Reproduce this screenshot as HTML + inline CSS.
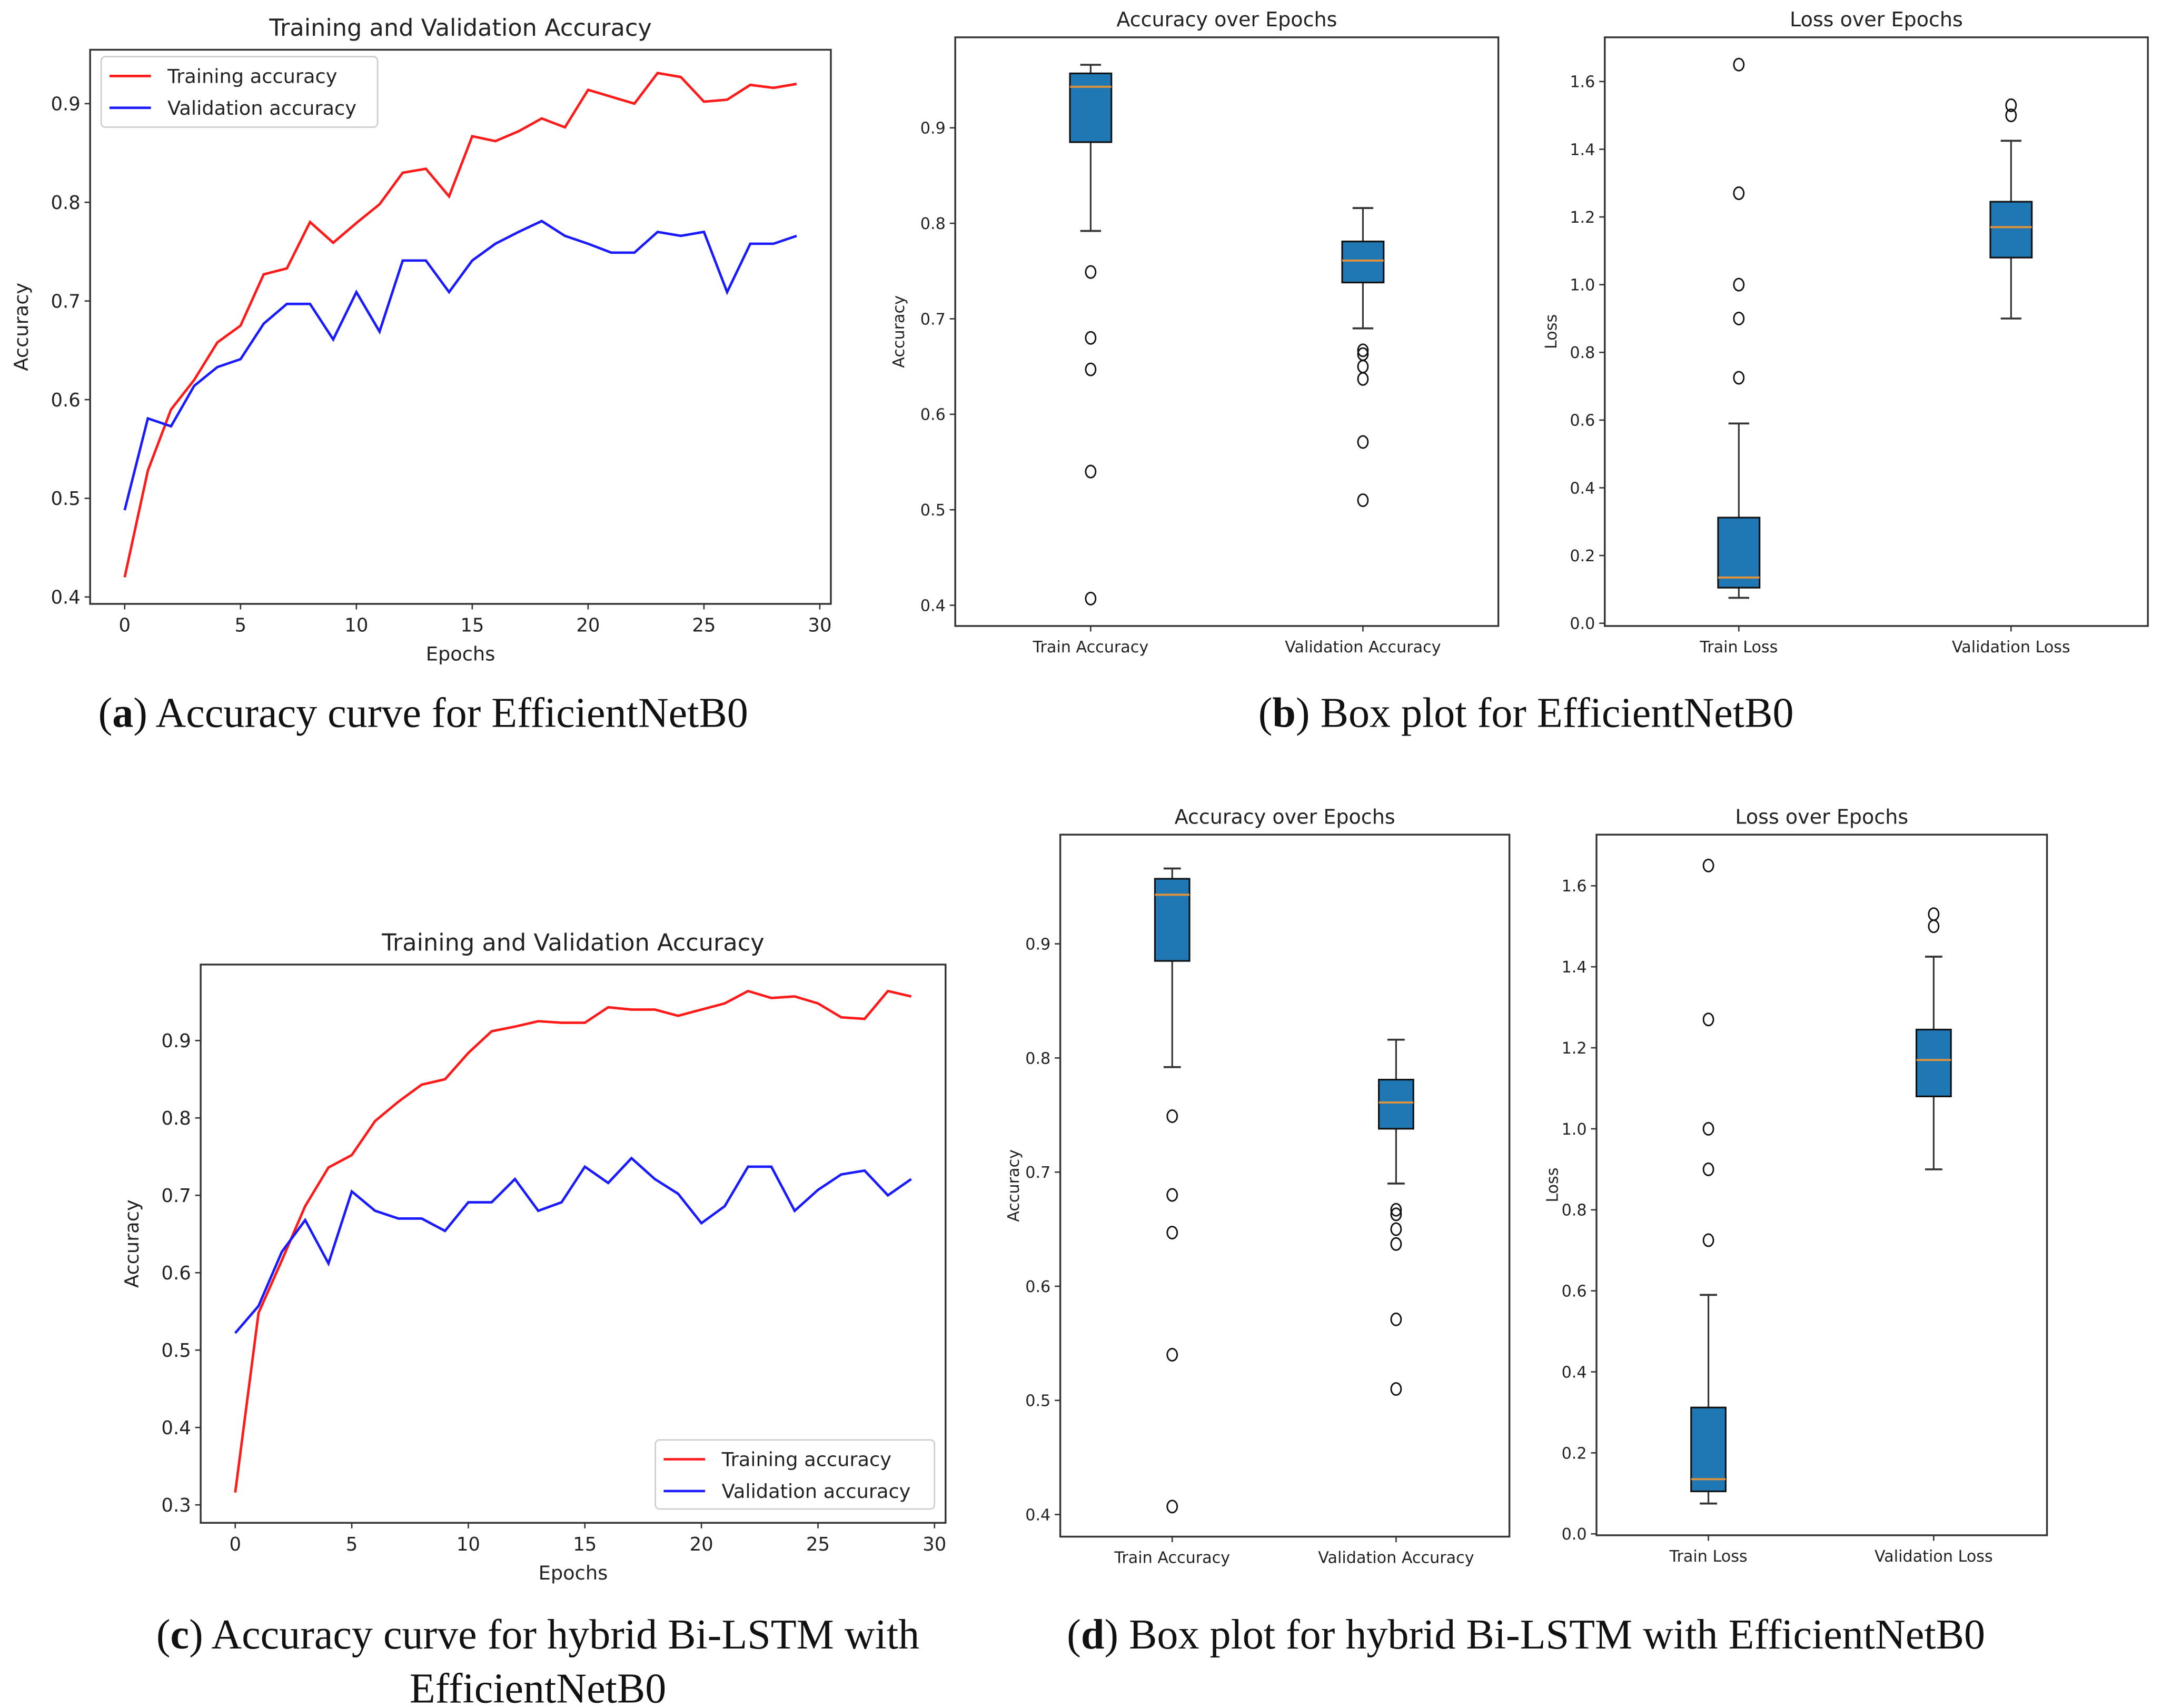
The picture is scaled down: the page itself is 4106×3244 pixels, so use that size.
<!DOCTYPE html>
<html><head><meta charset="utf-8"><style>
html,body{margin:0;padding:0;background:#fff}
svg{display:block}
</style></head><body>
<svg id="root" width="4106" height="3244" viewBox="0 0 1564 1236" xmlns="http://www.w3.org/2000/svg" font-family="'DejaVu Sans','Liberation Sans',sans-serif">
<rect width="1564" height="1236" fill="#fff"/>
<g id="g"></g>
<g font-family="'Liberation Serif',serif" font-size="30.5" fill="#111" text-anchor="middle">
<text x="306" y="526">(<tspan font-weight="bold">a</tspan>) Accuracy curve for EfficientNetB0</text>
<text x="1104" y="526">(<tspan font-weight="bold">b</tspan>) Box plot for EfficientNetB0</text>
<text x="389" y="1193">(<tspan font-weight="bold">c</tspan>) Accuracy curve for hybrid Bi-LSTM with</text>
<text x="389" y="1232">EfficientNetB0</text>
<text x="1104" y="1193">(<tspan font-weight="bold">d</tspan>) Box plot for hybrid Bi-LSTM with EfficientNetB0</text>
</g>
</svg>
<script>
const epochs = Array.from({length:30},(_, i)=>i);
const trainA = [0.42,0.528,0.59,0.62,0.658,0.675,0.727,0.733,0.78,0.759,0.779,0.798,0.83,0.834,0.806,0.867,0.862,0.872,0.885,0.876,0.914,0.907,0.90,0.931,0.927,0.902,0.904,0.919,0.916,0.92];
const valA = [0.488,0.581,0.573,0.614,0.633,0.641,0.677,0.697,0.697,0.661,0.709,0.669,0.741,0.741,0.709,0.741,0.758,0.77,0.781,0.766,0.758,0.749,0.749,0.77,0.766,0.77,0.709,0.758,0.758,0.766];
const trainC = [0.316,0.548,0.616,0.686,0.736,0.752,0.796,0.821,0.843,0.85,0.884,0.912,0.918,0.925,0.923,0.923,0.943,0.94,0.94,0.932,0.94,0.948,0.964,0.955,0.957,0.948,0.93,0.928,0.964,0.957];
const valC = [0.522,0.557,0.627,0.668,0.612,0.705,0.68,0.67,0.67,0.654,0.691,0.691,0.721,0.68,0.691,0.737,0.716,0.748,0.721,0.702,0.664,0.686,0.737,0.737,0.68,0.707,0.727,0.732,0.70,0.721];
const xTicks = [0,5,10,15,20,25,30];
const accTicksA = [0.4,0.5,0.6,0.7,0.8,0.9];
const accTicksC = [0.3,0.4,0.5,0.6,0.7,0.8,0.9];
const lossTicks = [0.0,0.2,0.4,0.6,0.8,1.0,1.2,1.4,1.6];
const accCats = ["Train Accuracy","Validation Accuracy"];
const lossCats = ["Train Loss","Validation Loss"];
// box stats: [whislo,q1,med,q3,whishi]
const boxTrainAcc = [0.792,0.885,0.943,0.957,0.966];
const boxValAcc = [0.69,0.738,0.761,0.781,0.816];
const boxTrainLoss = [0.075,0.105,0.135,0.312,0.59];
const boxValLoss = [0.9,1.08,1.17,1.245,1.425];
const outTrainAcc = [0.749,0.68,0.647,0.54,0.407];
const outValAcc = [0.667,0.663,0.65,0.637,0.571,0.51];
const outTrainLoss = [1.65,1.27,1.0,0.9,0.725];
const outValLoss = [1.53,1.50];

const NS="http://www.w3.org/2000/svg";
const G=document.getElementById('g');
function el(tag,attrs,parent,text){const e=document.createElementNS(NS,tag);for(const k in attrs)e.setAttribute(k,attrs[k]);if(text!==undefined)e.textContent=text;(parent||G).appendChild(e);return e;}
function lin(d0,d1,r0,r1){return v=>r0+(v-d0)*(r1-r0)/(d1-d0);}
function fmt(v){return v.toFixed(1);}

function axesFrame(p,name){
  const r=el('rect',{x:p.x0,y:p.y0,width:p.x1-p.x0,height:p.y1-p.y0,fill:'none',stroke:'#333','stroke-width':1.3});
  
  
}
function yAxis(p,ticks,sy,fs,name){
  ticks.forEach(t=>{
    const y=sy(t);
    const l=el('line',{x1:p.x0-4,x2:p.x0,y1:y,y2:y,stroke:'#333','stroke-width':1});
    
    
    const tx=el('text',{x:p.x0-7,y:y+fs*0.36,'font-size':fs,'text-anchor':'end',fill:'#222'},null,fmt(t));
    
    
  });
}
function title(x,y,s,fs,name){
  const t=el('text',{x:x,y:y,'font-size':fs,'text-anchor':'middle',fill:'#222'},null,s);
  
  
}
function ylabel(x,y,s,fs,name){
  const t=el('text',{x:0,y:0,'font-size':fs,'text-anchor':'middle',fill:'#222',transform:`translate(${x},${y}) rotate(-90)`},null,s);
  
  
}

function linePanel(p,tr,va,yt,name,legend){
  const sx=lin(0,30,p.ex0,p.ex1), sy=lin(p.v0,p.v1,p.py0,p.py1);
  axesFrame(p,name);
  title((p.x0+p.x1)/2,p.y0-10,'Training and Validation Accuracy',17,name+'-title');
  yAxis(p,yt,sy,13.5,name);
  xTicks.forEach(t=>{
    const x=sx(t);
    const l=el('line',{x1:x,x2:x,y1:p.y1,y2:p.y1+4,stroke:'#333','stroke-width':1});
    
    
    const tx=el('text',{x:x,y:p.y1+20,'font-size':13.5,'text-anchor':'middle',fill:'#222'},null,String(t));
    
    
  });
  title((p.x0+p.x1)/2,p.y1+41,'Epochs',14,name+'-x-axis-title');
  ylabel(p.x0-45,(p.y0+p.y1)/2,'Accuracy',14,name+'-y-axis-title');
  const pr=el('polyline',{points:epochs.map(i=>sx(i)+','+sy(tr[i])).join(' '),fill:'none',stroke:'#ff1a1a','stroke-width':1.8});
  
  
  const pb=el('polyline',{points:epochs.map(i=>sx(i)+','+sy(va[i])).join(' '),fill:'none',stroke:'#1a1aff','stroke-width':1.8});
  
  
  const L=legend;
  const lb=el('rect',{x:L.x,y:L.y,width:L.w,height:L.h,rx:3,fill:'#fff',stroke:'#ccc','stroke-width':1});
  
  
  [['Training accuracy','#ff1a1a'],['Validation accuracy','#1a1aff']].forEach((e,i)=>{
    const yy=L.y+14+i*23;
    const l=el('line',{x1:L.x+6,x2:L.x+36,y1:yy,y2:yy,stroke:e[1],'stroke-width':1.8});
    
    
    const t=el('text',{x:L.x+48,y:yy+5,'font-size':14,fill:'#222'},null,e[0]);
    
    
  });
}

function boxPanel(p,cats,stats,outs,yt,ttl,yl,name,bw,fs){
  const sy=lin(p.v0,p.v1,p.py0,p.py1);
  axesFrame(p,name);
  title((p.x0+p.x1)/2,p.y0-8,ttl,fs+3,name+'-title');
  yAxis(p,yt,sy,fs,name);
  ylabel(p.ylx,(p.y0+p.y1)/2,yl,fs,name+'-y-axis-title');
  cats.forEach((c,i)=>{
    const cx=p.cx[i], s=stats[i];
    const l=el('line',{x1:cx,x2:cx,y1:p.y1,y2:p.y1+4,stroke:'#333','stroke-width':1});
    
    
    const t=el('text',{x:cx,y:p.y1+19,'font-size':fs,'text-anchor':'middle',fill:'#222'},null,c);
    
    
    const w1=el('line',{x1:cx,x2:cx,y1:sy(s[0]),y2:sy(s[1]),stroke:'#333','stroke-width':1.2});
    
    
    const w2=el('line',{x1:cx,x2:cx,y1:sy(s[3]),y2:sy(s[4]),stroke:'#333','stroke-width':1.2});
    
    
    [s[0],s[4]].forEach(v=>{
      const c2=el('line',{x1:cx-bw/4,x2:cx+bw/4,y1:sy(v),y2:sy(v),stroke:'#333','stroke-width':1.4});
      
      
    });
    const b=el('rect',{x:cx-bw/2,y:sy(s[3]),width:bw,height:sy(s[1])-sy(s[3]),fill:'#1f77b4',stroke:'#111','stroke-width':1.2});
    
    
    const m=el('line',{x1:cx-bw/2,x2:cx+bw/2,y1:sy(s[2]),y2:sy(s[2]),stroke:'#e0923a','stroke-width':1.5});
    
    
    outs[i].forEach(v=>{
      const o=el('ellipse',{cx:cx,cy:sy(v),rx:3.6,ry:4.4,fill:'none',stroke:'#111','stroke-width':1.1});
      
      
    });
  });
}

linePanel({x0:65,x1:601,y0:36,y1:437,ex0:90,ex1:593,v0:0.4,v1:0.9,py0:432,py1:75},trainA,valA,accTicksA,'panel-a',{x:73,y:41,w:200,h:51});
linePanel({x0:145,x1:684,y0:698,y1:1102,ex0:170,ex1:676,v0:0.3,v1:0.9,py0:1089,py1:753},trainC,valC,accTicksC,'panel-c',{x:474,y:1042,w:202,h:50});

boxPanel({x0:691,x1:1084,y0:27,y1:453,v0:0.4,v1:0.9,py0:438,py1:92.5,cx:[789,986],ylx:654},accCats,[boxTrainAcc,boxValAcc],[outTrainAcc,outValAcc],accTicksA,'Accuracy over Epochs','Accuracy','panel-b-accuracy',30,11.5);
boxPanel({x0:1161,x1:1554,y0:27,y1:453,v0:0.0,v1:1.6,py0:451,py1:59,cx:[1258,1455],ylx:1126},lossCats,[boxTrainLoss,boxValLoss],[outTrainLoss,outValLoss],lossTicks,'Loss over Epochs','Loss','panel-b-loss',30,11.5);
boxPanel({x0:767,x1:1092,y0:604,y1:1112,v0:0.4,v1:0.9,py0:1096,py1:683,cx:[848,1010],ylx:737},accCats,[boxTrainAcc,boxValAcc],[outTrainAcc,outValAcc],accTicksA,'Accuracy over Epochs','Accuracy','panel-d-accuracy',25,11.5);
boxPanel({x0:1155,x1:1481,y0:604,y1:1111,v0:0.0,v1:1.6,py0:1110,py1:641,cx:[1236,1399],ylx:1127},lossCats,[boxTrainLoss,boxValLoss],[outTrainLoss,outValLoss],lossTicks,'Loss over Epochs','Loss','panel-d-loss',25,11.5);
</script>
</body></html>
